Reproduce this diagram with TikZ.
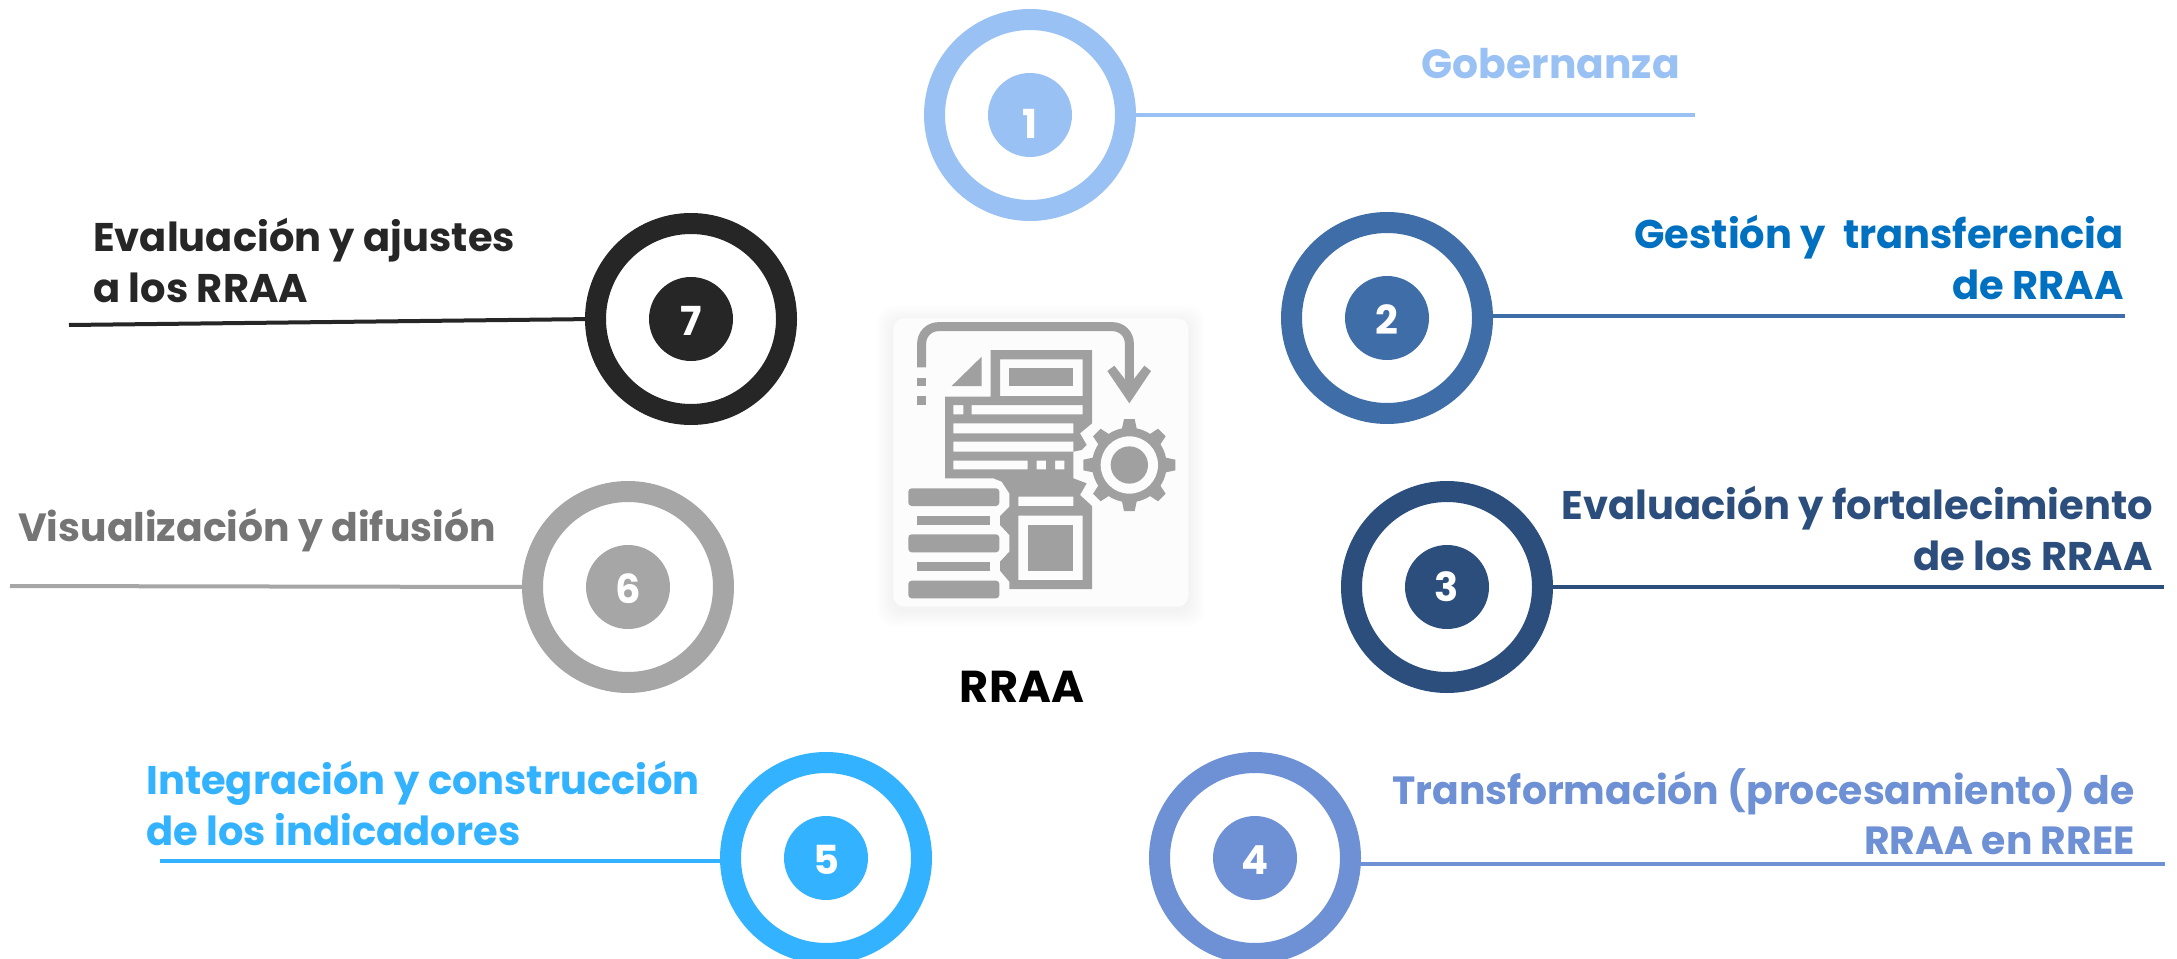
\documentclass[tikz,border=0pt]{standalone}
\usepackage{fontspec}
\setmainfont{Poppins}
\usetikzlibrary{calc}
\definecolor{cA}{HTML}{9AC1F3}
\definecolor{cB}{HTML}{3F6DA8}
\definecolor{tB}{HTML}{0070C0}
\definecolor{cC}{HTML}{2C4E7C}
\definecolor{cD}{HTML}{6E90D4}
\definecolor{cE}{HTML}{33B2FF}
\definecolor{cF}{HTML}{A6A6A6}
\definecolor{tF}{HTML}{757575}
\definecolor{cG}{HTML}{262626}
\definecolor{ico}{HTML}{A0A0A0}
\definecolor{card}{HTML}{FCFCFC}
\newcommand{\lowerdigit}[2]{\raisebox{-#1}[\height][\depth]{#2}}
\tikzset{
  ring/.style={circle,draw=#1,line width=15.75pt,fill=white,minimum size=143.25pt,inner sep=0pt,outer sep=0pt},
  core/.style={circle,fill=#1,minimum size=63pt,inner sep=0pt,outer sep=0pt,text=white,font=\fontsize{30}{36}\selectfont\bfseries},
  lead/.style={draw=#1,line width=3pt},
  lab/.style={text=#1,inner sep=0pt,font=\fontsize{30}{38}\selectfont\bfseries},
  labr/.style={lab=#1,align=right,anchor=north east},
  labl/.style={lab=#1,align=left,anchor=north west},
  tight/.style={font=\fontsize{29.5}{38}\selectfont\bfseries},
}
\begin{document}
\begin{tikzpicture}[x=0.75pt,y=-0.75pt]
\useasboundingbox (0,0) rectangle (2177,959);
\fill[white] (0,0) rectangle (2177,959);
% icon card
\begin{scope}[shift={(860,290)},x=0.25pt,y=-0.25pt]
  \foreach \g in {48,40,32,24,16,8}
    \fill[black,opacity=.006,rounded corners=12pt] (100-\g,85-\g+10) rectangle (985+\g,950+\g+10);
  \fill[card,rounded corners=8pt] (100,85) rectangle (985,950);
  % arrow
  \draw[ico,line width=6.75pt,rounded corners=12.5pt] (185,232) -- (185,110) -- (808,110) -- (808,300);
  \fill[ico] (742,243) -- (763,227) -- (808,285) -- (853,227) -- (873,243) -- (808,340) -- cycle;
  \fill[ico] (172,263) rectangle (197,288);
  \fill[ico] (172,318) rectangle (197,345);
  \fill[ico] (275,288) -- (365,200) -- (365,288) -- cycle;
  % document
  \fill[ico,even odd rule]
    (392,180) -- (696,180) -- (696,400) -- (660,430) -- (680,465) -- (665,480) -- (640,485) -- (640,565) -- (680,580) -- (660,615) -- (696,648) -- (696,897) -- (448,897) -- (448,875) -- (420,842) -- (420,815) -- (448,785) -- (448,735) -- (420,705) -- (420,678) -- (448,650) -- (448,610) -- (425,575) -- (400,565) -- (255,565) -- (255,320) -- (392,320) -- cycle
    (420,208) rectangle (668,318)
    (280,345) rectangle (310,373)
    (335,345) rectangle (668,373)
    (280,400) rectangle (640,430)
    (280,455) rectangle (640,485)
    (280,512) rectangle (503,538)
    (530,512) rectangle (558,538)
    (585,512) rectangle (613,538)
    (475,620) rectangle (640,648)
    (475,677) rectangle (668,870);
  \fill[ico] (448,235) rectangle (640,288);
  \fill[ico] (503,705) rectangle (640,842);
  % stack
  \fill[ico,rounded corners=2.5pt] (145,595) rectangle (418,648);
  \fill[ico] (172,678) rectangle (390,705);
  \fill[ico,rounded corners=2.5pt] (145,733) rectangle (418,787);
  \fill[ico] (172,816) rectangle (390,842);
  \fill[ico,rounded corners=2.5pt] (145,872) rectangle (418,925);
  % gear
  \begin{scope}[shift={(808,525)}]
    \foreach \a in {0,45,...,315}
      \fill[ico,rotate=\a] (-24,-100) -- (-16,-138) -- (16,-138) -- (24,-100) -- cycle;
    \fill[ico] (0,0) circle[radius=112];
    \fill[card] (0,0) circle[radius=86];
    \fill[ico] (0,0) circle[radius=56];
  \end{scope}
\end{scope}
% connector end points
\coordinate (e1) at (1695,115);
\coordinate (e2) at (2125,316);
\coordinate (e3) at (2164,587);
\coordinate (e4) at (2165,864);
\coordinate (e5) at (160,861);
\coordinate (e6) at (10,586);
\coordinate (e7) at (69,325);
% rings
\node[ring=cA] (r1) at (1030,115) {};
\node[ring=cB] (r2) at (1387,318) {};
\node[ring=cC] (r3) at (1447,587) {};
\node[ring=cD] (r4) at (1255,858) {};
\node[ring=cE] (r5) at (826,858) {};
\node[ring=cF] (r6) at (628,587) {};
\node[ring=cG] (r7) at (691,319) {};
% connectors
\draw[lead=cA] (r1.east) -- (e1);
\draw[lead=cB] (r2.east |- e2) -- (e2);
\draw[lead=cC] (r3.east) -- (e3);
\draw[lead=cD] ($(r4.east)+(0,6)$) -- (e4);
\draw[lead=cE] (r5.west |- e5) -- (e5);
\draw[lead=cF] (r6.west) -- (e6);
\draw[lead=cG] (r7.west) -- (e7);
% cores
\node[core=cA] (n1) at (r1) {\lowerdigit{7pt}{1}};
\node[core=cB] (n2) at (r2) {\lowerdigit{1.5pt}{2}};
\node[core=cC] (n3) at (r3) {3};
\node[core=cD] (n4) at (r4) {\lowerdigit{1.5pt}{4}};
\node[core=cE] (n5) at (r5) {\lowerdigit{1.5pt}{5}};
\node[core=cF] (n6) at (r6) {\lowerdigit{1.5pt}{6}};
\node[core=cG] (n7) at (r7) {\lowerdigit{1.5pt}{7}};
% labels
\node[labr=cA,font=\fontsize{30.6}{38}\selectfont\bfseries] (t1) at (1680,48) {Gobernanza};
\node[labr=tB] (t2) at (2124,215) {Gestión y\ \ transferencia\\de RRAA};
\node[labr=cC] (t3) at (2153,486) {Evaluación y fortalecimiento\\de los RRAA};
\node[labr=cD,tight] (t4) at (2135,768) {Transformación (procesamiento) de\\RRAA en RREE};
\node[labl=cE] (t5) at (146,761) {Integración y construcción\\de los indicadores};
\node[labl=tF,tight] (t6) at (18,508) {Visualización y difusión};
\node[labl=cG] (t7) at (93,218) {Evaluación y ajustes\\a los RRAA};
\node[lab=black,anchor=base,font=\fontsize{33.5}{38}\selectfont\bfseries] (t0) at (1022,702) {RRAA};
\end{tikzpicture}
\end{document}
